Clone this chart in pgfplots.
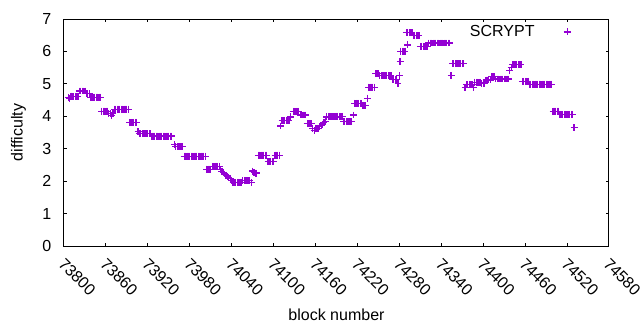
\documentclass[border=0pt]{standalone}
\usepackage{fontspec}
\setmainfont{Liberation Sans}
\usepackage{pgfplots}
\pgfplotsset{compat=1.18}
\definecolor{gpviolet}{HTML}{9400D3}
\begin{document}
\begin{tikzpicture}[font=\fontsize{12}{14.4}\selectfont]
\path[use as bounding box] (-48pt,-63pt) rectangle (432pt,184.5pt);
\begin{axis}[
  at={(0,0)}, anchor=south west, scale only axis,
  width=408.75pt, height=170.25pt,
  xmin=73800, xmax=74580, ymin=0, ymax=7,
  xtick={73800,73860,73920,73980,74040,74100,74160,74220,74280,74340,74400,74460,74520,74580},
  ytick={0,1,2,3,4,5,6,7},
  scaled x ticks=false,
  /pgf/number format/1000 sep={},
  /pgf/number format/assume math mode=true,
  tick align=inside, tick pos=both,
  major tick length=2.6pt,
  axis line style={line width=0.75pt},
  every tick/.style={black, line width=0.75pt},
  xticklabel style={rotate=-45, anchor=north west, inner sep=3pt, xshift=3.5pt, yshift=-2pt},
  yticklabel style={xshift=-6pt},
  xlabel={block number}, ylabel={difficulty},
  xlabel style={at={(axis description cs:0.5,0)}, anchor=base, yshift=-56pt},
  ylabel style={at={(axis description cs:0,0.5)}, anchor=base, rotate=0, xshift=0pt, yshift=31pt},
  legend plot pos=right,
  legend style={draw=none, fill=none, at={(axis description cs:0.9395,0.943)}, anchor=east},
]
\addplot[only marks, mark=+, mark size=2.6pt, color=gpviolet, line width=0.9pt,
  legend image code/.code={\path (-22pt,0pt) (3pt,0pt); \path[##1] plot coordinates {(0pt,0pt)};}] coordinates {
(73806,4.58)(73808,4.55)(73810,4.62)(73812,4.60)(73814,4.60)(73816,4.60)(73818,4.60)(73820,4.60)
(73822,4.78)(73824,4.78)(73826,4.78)(73828,4.78)(73830,4.78)(73832,4.70)(73834,4.70)(73836,4.70)
(73838,4.59)(73840,4.59)(73842,4.59)(73844,4.59)(73846,4.59)(73848,4.59)(73850,4.59)(73852,4.59)
(73854,4.16)(73856,4.16)(73858,4.16)(73860,4.16)(73862,4.16)(73864,4.08)(73866,4.08)(73868,4.02)(73870,4.08)
(73872,4.22)(73874,4.22)(73876,4.22)(73878,4.22)(73880,4.22)(73882,4.22)(73884,4.22)(73886,4.22)(73888,4.22)(73890,4.22)(73892,4.22)
(73894,3.81)(73896,3.81)(73898,3.81)(73900,3.81)(73902,3.81)(73904,3.81)
(73906,3.52)(73908,3.46)(73910,3.46)(73912,3.46)(73914,3.46)(73916,3.46)(73918,3.46)(73920,3.46)(73922,3.46)(73924,3.46)
(73926,3.39)(73928,3.39)(73930,3.39)(73932,3.39)(73934,3.39)(73936,3.39)(73938,3.39)(73940,3.39)(73942,3.39)(73944,3.39)(73946,3.39)(73948,3.39)(73950,3.39)(73952,3.39)(73954,3.39)
(73958,3.13)(73960,3.06)(73962,3.06)(73964,3.06)(73966,3.06)(73968,3.06)(73970,3.06)
(73972,2.77)(73974,2.77)(73976,2.77)(73978,2.77)(73980,2.77)(73982,2.77)(73984,2.77)(73986,2.77)(73988,2.77)(73990,2.77)(73992,2.77)(73994,2.77)(73996,2.77)(73998,2.77)(74000,2.77)(74002,2.77)
(74004,2.37)(74006,2.37)(74008,2.37)(74010,2.37)
(74012,2.46)(74014,2.46)(74016,2.46)(74018,2.46)(74020,2.46)(74022,2.46)
(74024,2.35)(74026,2.30)(74028,2.26)(74030,2.22)(74032,2.18)(74034,2.14)(74036,2.10)(74038,2.07)(74040,2.03)
(74042,1.96)(74044,1.96)(74046,1.96)(74048,1.96)(74050,1.96)(74052,1.96)(74054,1.96)
(74056,2.02)(74058,2.02)(74060,2.02)(74062,2.02)(74064,2.02)(74066,2.02)
(74068,1.95)(74070,2.31)(74072,2.27)(74074,2.25)(74076,2.25)
(74078,2.80)(74080,2.80)(74082,2.80)(74084,2.80)(74086,2.80)(74088,2.80)(74090,2.80)
(74092,2.60)(74094,2.60)(74096,2.60)(74098,2.60)(74100,2.60)
(74102,2.80)(74104,2.80)(74106,2.80)(74108,2.80)
(74110,3.70)(74112,3.87)(74114,3.87)(74116,3.87)(74118,3.87)(74120,3.87)(74122,3.87)(74124,3.98)
(74128,4.15)(74130,4.15)(74132,4.15)(74134,4.15)(74136,4.15)
(74138,4.04)(74140,4.04)(74142,4.04)(74144,4.04)(74146,4.04)
(74148,3.77)(74150,3.77)(74152,3.77)(74154,3.77)
(74156,3.63)(74158,3.57)(74160,3.63)(74162,3.63)(74164,3.63)
(74166,3.68)(74168,3.72)(74170,3.76)(74172,3.80)(74174,3.84)
(74176,3.98)(74178,3.98)(74180,3.98)(74182,3.98)(74184,3.98)(74186,3.98)(74188,3.98)
(74190,4.00)(74192,4.00)(74194,4.00)(74196,4.00)(74198,4.00)
(74200,3.84)(74202,3.84)(74204,3.84)(74206,3.84)(74208,3.84)(74210,3.84)(74212,3.84)
(74214,4.04)
(74216,4.40)(74218,4.40)(74220,4.40)(74222,4.40)(74224,4.40)(74226,4.40)(74228,4.33)(74230,4.33)(74232,4.33)
(74234,4.56)
(74236,4.90)(74238,4.90)(74240,4.90)(74242,4.90)(74244,4.90)
(74246,5.31)(74248,5.31)(74250,5.31)(74252,5.25)(74254,5.25)(74256,5.25)(74258,5.25)(74260,5.25)(74262,5.25)(74264,5.25)(74266,5.25)(74268,5.25)
(74270,5.14)(74272,5.14)(74274,5.14)(74276,5.14)
(74278,5.01)(74280,5.25)(74281,5.69)
(74282,6.01)(74284,6.01)(74286,6.01)(74288,6.01)(74292,6.20)
(74290,6.58)(74292,6.58)(74294,6.58)(74296,6.58)(74298,6.58)
(74300,6.48)(74302,6.48)(74304,6.48)(74306,6.48)(74308,6.48)
(74310,6.16)(74312,6.16)(74314,6.16)(74316,6.16)(74318,6.16)(74320,6.16)
(74322,6.26)(74324,6.26)(74326,6.26)(74328,6.26)(74330,6.26)(74332,6.26)(74334,6.26)(74336,6.26)(74338,6.26)(74340,6.26)(74342,6.26)(74344,6.26)(74346,6.26)(74348,6.26)(74350,6.26)(74352,6.26)
(74354,5.25)
(74356,5.62)(74358,5.62)(74360,5.62)(74362,5.62)(74364,5.62)(74366,5.62)(74368,5.62)(74370,5.62)(74372,5.62)
(74374,4.89)(74376,4.97)(74378,4.97)(74380,4.97)(74382,4.97)(74384,4.97)(74386,4.90)
(74388,5.05)(74390,5.05)(74392,5.05)(74394,5.05)(74396,5.05)
(74398,5.00)(74400,5.00)(74402,5.00)
(74404,5.12)(74406,5.12)(74408,5.12)(74410,5.12)
(74412,5.22)(74414,5.22)(74416,5.22)
(74418,5.15)(74420,5.15)(74422,5.15)(74424,5.15)(74426,5.15)(74428,5.15)(74430,5.15)(74432,5.15)(74434,5.15)(74436,5.15)
(74438,5.41)(74440,5.50)
(74442,5.59)(74444,5.59)(74446,5.59)(74448,5.59)(74450,5.59)(74452,5.59)(74454,5.59)
(74456,5.08)(74458,5.08)(74460,5.08)(74462,5.08)(74464,5.08)
(74466,4.99)(74468,4.99)(74470,4.99)(74472,4.99)(74474,4.99)(74476,4.99)(74478,4.99)(74480,4.99)(74482,4.99)(74484,4.99)(74486,4.99)(74488,4.99)(74490,4.99)(74492,4.99)(74494,4.99)(74496,4.99)(74498,4.99)
(74500,4.16)(74502,4.16)(74504,4.16)(74506,4.16)(74508,4.16)
(74510,4.06)(74512,4.06)(74514,4.06)(74516,4.06)(74518,4.06)(74520,4.06)(74522,4.06)(74524,4.06)(74526,4.06)(74528,4.06)
(74530,3.65)
};
\addlegendentry{SCRYPT}
\end{axis}
\end{tikzpicture}
\end{document}
